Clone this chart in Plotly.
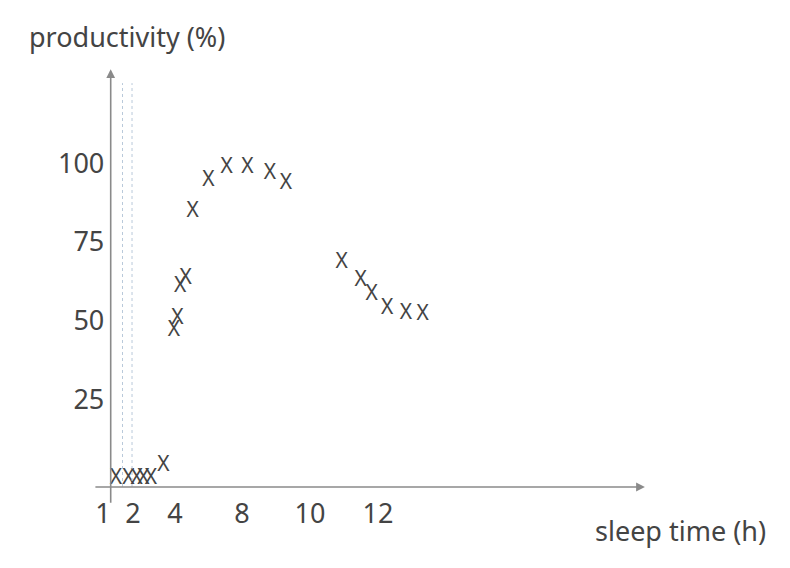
import plotly.graph_objects as go

# data (sleep time in axis coordinates, productivity %)
sleep_time = [4.29, 4.66, 4.90, 5.10, 5.32, 5.69,
              6.00, 6.10, 6.18, 6.34, 6.55, 7.01, 7.55, 8.16, 8.82, 9.29,
              10.93, 11.49, 11.81, 12.27, 12.82, 13.31]
productivity = [0, 0, 0, 0, 0, 4.2,
                46.9, 50.6, 60.7, 63.3, 84.7, 94.4, 98.6, 98.6, 96.7, 93.4,
                68.6, 62.8, 58.2, 53.8, 52.2, 51.9]

x_tick_labels = ["1", "2", "4", "8", "10", "12"]
x_tick_pos = [3.91, 4.79, 6.03, 8, 10, 12]
y_ticks = [25, 50, 75, 100]
guide_lines = [4.485, 4.765]

FONT = "Noto Sans"
TXT = "#444444"
Y_AXIS_AT = -2.53

fig = go.Figure()
fig.add_trace(go.Scatter(
    x=sleep_time, y=productivity, mode="text", text=["X"] * len(sleep_time),
    textfont=dict(family=FONT, size=21, color="#444444"),
    textposition="middle center", hoverinfo="skip", showlegend=False,
))

for gx in guide_lines:
    fig.add_shape(type="line", xref="x", yref="y", x0=gx, x1=gx, y0=Y_AXIS_AT, y1=125.3,
                  line=dict(color="#b9c9da", width=1, dash="dot"))

# y axis arrow
fig.add_annotation(x=4.138, y=129.7, xref="x", yref="y", ax=0, ay=435,
                   axref="pixel", ayref="pixel", showarrow=True, arrowhead=2,
                   arrowsize=1.1, arrowwidth=1.6, arrowcolor="#8a8a8a", text="")
# x axis arrow
fig.add_annotation(x=19.85, y=Y_AXIS_AT, xref="x", yref="y", ax=-551, ay=0,
                   axref="pixel", ayref="pixel", showarrow=True, arrowhead=2,
                   arrowsize=1.1, arrowwidth=1.6, arrowcolor="#8a8a8a", text="")

fig.add_annotation(x=-0.117, y=1.058, xref="paper", yref="paper", xanchor="left",
                   yanchor="middle", showarrow=False, text="productivity (%)",
                   font=dict(family=FONT, size=27, color=TXT))
fig.add_annotation(x=0.8985, y=-0.101, xref="paper", yref="paper", xanchor="left",
                   yanchor="middle", showarrow=False, text="sleep time (h)",
                   font=dict(family=FONT, size=27, color=TXT))

fig.update_layout(
    width=790, height=568,
    margin=dict(l=84, r=148, t=53, b=89),
    paper_bgcolor="white", plot_bgcolor="white",
    xaxis=dict(range=[3.588, 20], showline=False, showgrid=False, zeroline=False,
               tickmode="array", tickvals=x_tick_pos, ticktext=x_tick_labels,
               ticks="outside", ticklen=3, tickcolor="rgba(0,0,0,0)",
               tickfont=dict(family=FONT, size=27, color=TXT)),
    yaxis=dict(range=[Y_AXIS_AT, 132.3], anchor="free", position=0.0335,
               showline=False, showgrid=False, zeroline=False,
               tickmode="array", tickvals=y_ticks,
               ticks="outside", ticklen=1, tickcolor="rgba(0,0,0,0)",
               tickfont=dict(family=FONT, size=27, color=TXT)),
)

fig.write_html("out.html")
